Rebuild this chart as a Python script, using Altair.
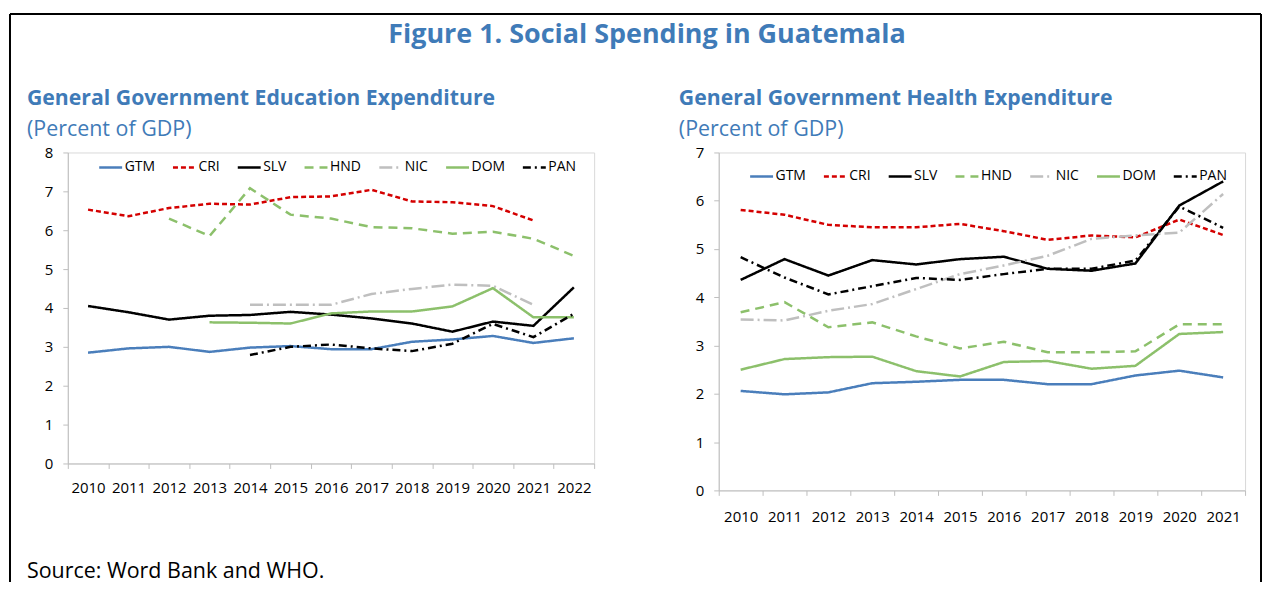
import altair as alt
import pandas as pd

countries = ["GTM", "CRI", "SLV", "HND", "NIC", "DOM", "PAN"]
colors = ["#4A7EBB", "#D40000", "#000000", "#8CC06B", "#BFBFBF", "#8CC06B", "#000000"]
dashes = [[1, 0], [5, 3], [1, 0], [9, 6], [13, 4, 2, 4], [1, 0], [8, 4, 2, 4]]

edu_years = list(range(2010, 2023))
edu = {
    "GTM": [2.85, 2.96, 3.00, 2.87, 2.98, 3.02, 2.94, 2.94, 3.13, 3.19, 3.28, 3.10, 3.22],
    "CRI": [6.53, 6.36, 6.57, 6.68, 6.66, 6.85, 6.87, 7.04, 6.74, 6.72, 6.62, 6.25, None],
    "SLV": [4.05, 3.89, 3.70, 3.80, 3.82, 3.90, 3.83, 3.73, 3.60, 3.39, 3.65, 3.54, 4.53],
    "HND": [None, None, 6.30, 5.85, 7.08, 6.40, 6.30, 6.08, 6.05, 5.91, 5.96, 5.78, 5.34],
    "NIC": [None, None, None, None, 4.08, 4.08, 4.08, 4.36, 4.49, 4.60, 4.57, 4.08, None],
    "DOM": [None, None, None, 3.63, 3.62, 3.60, 3.86, 3.91, 3.91, 4.04, 4.51, 3.76, 3.76],
    "PAN": [None, None, None, None, 2.79, 3.00, 3.06, 2.96, 2.89, 3.08, 3.59, 3.25, 3.85],
}

health_years = list(range(2010, 2022))
health = {
    "GTM": [2.06, 1.99, 2.03, 2.22, 2.25, 2.29, 2.29, 2.20, 2.20, 2.38, 2.48, 2.34],
    "CRI": [5.81, 5.71, 5.50, 5.45, 5.45, 5.52, 5.37, 5.19, 5.28, 5.24, 5.61, 5.29],
    "SLV": [4.36, 4.79, 4.45, 4.77, 4.68, 4.79, 4.84, 4.59, 4.55, 4.70, 5.90, 6.40],
    "HND": [3.69, 3.90, 3.38, 3.48, 3.19, 2.94, 3.08, 2.86, 2.86, 2.88, 3.44, 3.44],
    "NIC": [3.54, 3.52, 3.72, 3.86, 4.17, 4.48, 4.66, 4.86, 5.21, 5.28, 5.34, 6.14],
    "DOM": [2.50, 2.72, 2.76, 2.77, 2.47, 2.36, 2.66, 2.68, 2.52, 2.58, 3.24, 3.28],
    "PAN": [4.83, 4.41, 4.06, 4.23, 4.40, 4.36, 4.48, 4.59, 4.59, 4.76, 5.88, 5.44],
}

fig_title = "Figure 1. Social Spending in Guatemala"
left_title = "General Government Education Expenditure"
right_title = "General Government Health Expenditure"
unit_text = "(Percent of GDP)"
source_text = "Source: Word Bank and WHO."

BLUE = "#3F7BB8"
FONT = "Open Sans"


def long_df(years, series):
    rows = []
    for c in countries:
        for y, v in zip(years, series[c]):
            if v is not None:
                rows.append({"year": str(y), "country": c, "value": v})
    return pd.DataFrame(rows)


def lines(df, years, ymax, height, legend_y, label_pad):
    legend = alt.Legend(
        orient="none", legendX=30, legendY=legend_y, direction="horizontal",
        columns=7, symbolType="stroke", symbolSize=529, symbolStrokeWidth=2.5,
        labelFontSize=14, labelFont=FONT, labelColor="#000000",
        columnPadding=12, labelOffset=1, padding=0,
    )
    return alt.Chart(df).mark_line(strokeWidth=2.5).encode(
        x=alt.X(
            "year:O",
            sort=[str(y) for y in years],
            scale=alt.Scale(type="band", paddingInner=0, paddingOuter=0),
            axis=alt.Axis(title=None, labelAngle=0, tickBand="extent", tickSize=5,
                          labelPadding=label_pad, domainColor="#BFBFBF", tickColor="#BFBFBF"),
        ),
        y=alt.Y(
            "value:Q",
            scale=alt.Scale(domain=[0, ymax], nice=False),
            axis=alt.Axis(title=None, values=list(range(0, ymax + 1)), tickSize=5,
                          labelPadding=10, grid=False, domainColor="#BFBFBF", tickColor="#BFBFBF"),
        ),
        color=alt.Color("country:N", sort=countries, title=None,
                        scale=alt.Scale(domain=countries, range=colors), legend=legend),
        strokeDash=alt.StrokeDash("country:N", sort=countries, title=None,
                                  scale=alt.Scale(domain=countries, range=dashes), legend=legend),
        detail="country:N",
    ).properties(width=528, height=height)


def text(t, x, y, size, color, weight="normal", align="left"):
    return alt.Chart(pd.DataFrame({"t": [t]})).mark_text(
        align=align, baseline="middle", fontSize=size, font=FONT,
        fontWeight=weight, color=color,
    ).encode(text="t:N", x=alt.value(x), y=alt.value(y))


def rule(x, y, x2=None, y2=None):
    enc = {"x": alt.value(x), "y": alt.value(y)}
    if x2 is not None:
        enc["x2"] = alt.value(x2)
    if y2 is not None:
        enc["y2"] = alt.value(y2)
    return alt.Chart(pd.DataFrame({"a": [0]})).mark_rule(color="#000000", strokeWidth=2).encode(**enc)


left = alt.layer(
    lines(long_df(edu_years, edu), edu_years, 8, 312, 2, 12),
    text(fig_title, 581, -118, 27, BLUE, "bold", "center"),
    text(left_title, -41, -54, 21.3, BLUE, "bold"),
    text(unit_text, -41, -23, 21.5, BLUE),
    text(source_text, -41, 421, 21.5, "#000000"),
    rule(-58, -139, x2=1197),
    rule(-58, -139, y2=431),
    rule(1197, -139, y2=431),
)

right = alt.layer(
    lines(long_df(health_years, health), health_years, 7, 339, 11, 14),
    text(right_title, -40, -54, 21.3, BLUE, "bold"),
    text(unit_text, -40, -23, 21.5, BLUE),
)

chart = alt.hconcat(left, right, spacing=125, bounds="flush").resolve_scale(
    color="independent", strokeDash="independent"
).resolve_legend(
    color="independent", strokeDash="independent"
).properties(
    padding={"left": 0, "top": 3, "right": 0, "bottom": 0}
).configure_view(stroke="#D9D9D9").configure_axis(
    labelFont=FONT, labelFontSize=15, labelColor="#000000"
)

chart.save("out.html", embed_options={"renderer": "svg", "actions": False})
